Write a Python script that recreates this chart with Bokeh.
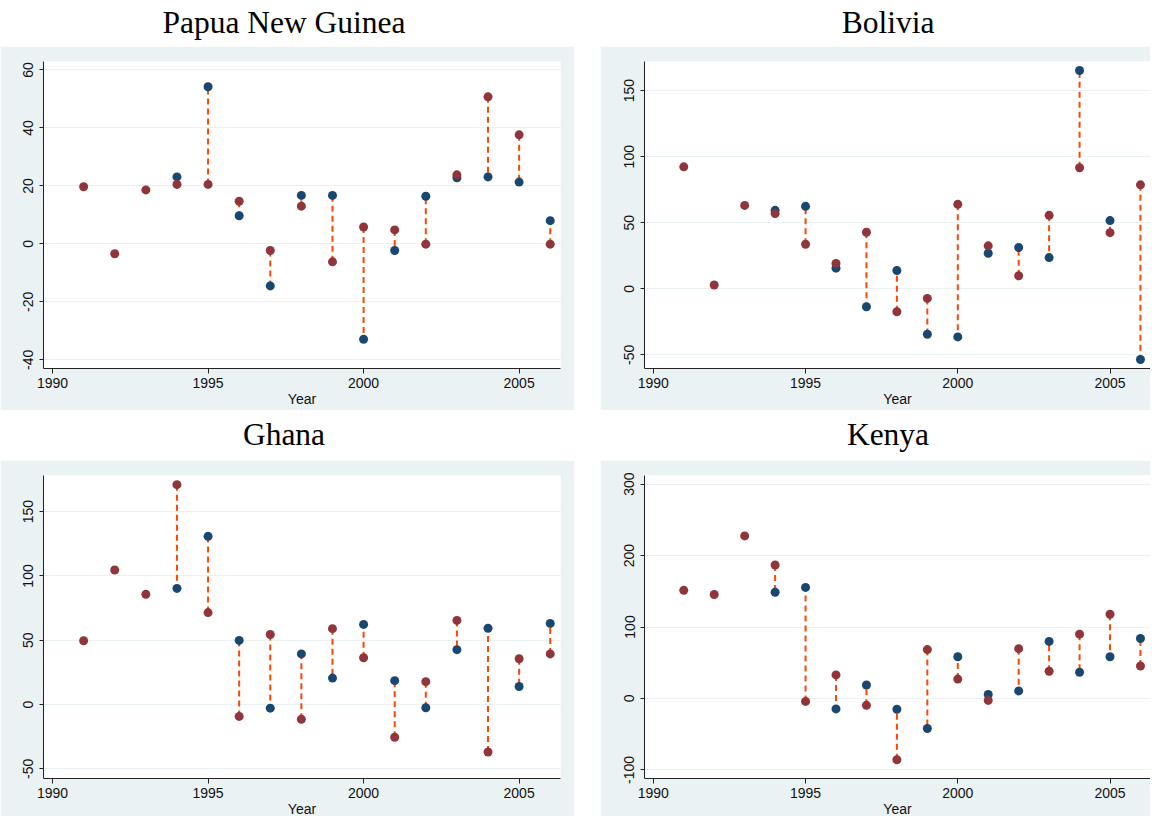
from bokeh.plotting import figure
from bokeh.layouts import column, row
from bokeh.models import Div, Spacer, FixedTicker, Range1d, ColumnDataSource, PrintfTickFormatter
from bokeh.embed import file_html
from bokeh.resources import INLINE

years = list(range(1991, 2007))
nan = float("nan")

# red (maroon) series and blue (navy) series, one value per year 1991-2006
png_red = [19.7, -3.4, 18.6, 20.5, 20.5, 14.7, -2.3, 13.0, -6.2, 5.8, 4.8, -0.1, 23.8, 50.7, 37.6, -0.1]
png_blue = [nan, nan, nan, 23.1, 54.2, 9.7, -14.5, 16.7, 16.7, -32.9, -2.3, 16.4, 22.8, 23.1, 21.3, 8.0]

bol_red = [92.3, 2.8, 63.1, 56.9, 33.7, 19.1, 42.8, -17.4, -7.3, 63.9, 32.5, 9.8, 55.6, 91.6, 42.5, 78.7]
bol_blue = [nan, nan, nan, 59.4, 62.4, 15.6, -13.6, 13.8, -34.5, -36.5, 26.9, 31.2, 23.6, 165.3, 51.6, -53.6]

gha_red = [49.6, 104.6, 85.7, 171.0, 71.5, -9.2, 54.5, -11.5, 59.0, 36.4, -25.4, 17.8, 65.4, -36.9, 35.6, 39.4]
gha_blue = [nan, nan, nan, 90.3, 130.8, 49.9, -2.8, 39.4, 20.6, 62.3, 18.6, -2.5, 42.7, 59.3, 14.0, 63.1]

ken_red = [151.3, 145.4, 227.5, 186.7, -4.1, 33.0, -9.6, -85.7, 68.4, 27.1, -2.7, 69.7, 38.1, 90.0, 117.9, 45.4]
ken_blue = [nan, nan, nan, 148.6, 155.4, -14.6, 18.8, -15.1, -42.1, 58.3, 5.5, 10.6, 79.8, 36.7, 58.3, 83.9]

x_ticks = [1990, 1995, 2000, 2005]
png_yticks = [-40, -20, 0, 20, 40, 60]
bol_yticks = [-50, 0, 50, 100, 150]
gha_yticks = [-50, 0, 50, 100, 150]
ken_yticks = [-100, 0, 100, 200, 300]

titles = ["Papua New Guinea", "Bolivia", "Ghana", "Kenya"]

RED = "#90353b"
BLUE = "#1a476f"
DASH = "#ff4500"
BG = "#eaf2f3"
FONT = "Liberation Sans"


def panel(red, blue, yr, yticks, w, h, bl, br, bt, bb, xr):
    p = figure(width=w, height=h, x_range=Range1d(*xr), y_range=Range1d(*yr),
               output_backend="svg", toolbar_location=None,
               min_border_left=bl, min_border_right=br,
               min_border_top=bt, min_border_bottom=bb)
    p.border_fill_color = BG
    p.background_fill_color = "white"
    p.outline_line_color = None

    p.xgrid.visible = False
    p.ygrid.ticker = FixedTicker(ticks=yticks)
    p.ygrid.grid_line_color = BG
    p.ygrid.grid_line_width = 1.2

    xa = p.xaxis[0]
    xa.ticker = FixedTicker(ticks=x_ticks)
    xa.axis_label = "Year"
    xa.axis_label_text_font = FONT
    xa.axis_label_text_font_size = "14px"
    xa.axis_label_text_font_style = "normal"
    xa.axis_label_text_color = "#111111"
    xa.axis_label_standoff = 0
    xa.major_label_text_font = FONT
    xa.major_label_text_font_size = "14px"
    xa.major_label_text_color = "#111111"
    xa.major_label_standoff = 4
    xa.major_tick_out = 5
    xa.major_tick_in = 0
    xa.minor_tick_out = 0
    xa.minor_tick_in = 0
    xa.axis_line_color = "#222222"
    xa.major_tick_line_color = "#222222"

    ya = p.yaxis[0]
    ya.ticker = FixedTicker(ticks=yticks)
    ya.formatter = PrintfTickFormatter(format="%d")
    ya.major_label_orientation = "vertical"
    ya.major_label_text_font = FONT
    ya.major_label_text_font_size = "14px"
    ya.major_label_text_color = "#111111"
    ya.major_label_standoff = 6
    ya.major_tick_out = 4
    ya.major_tick_in = 0
    ya.minor_tick_out = 0
    ya.minor_tick_in = 0
    ya.axis_line_color = "#222222"
    ya.major_tick_line_color = "#222222"

    pairs = [(y, r, b) for y, r, b in zip(years, red, blue) if b == b]
    seg = ColumnDataSource(dict(x=[q[0] for q in pairs],
                                r=[q[1] for q in pairs],
                                b=[q[2] for q in pairs]))
    p.segment(x0="x", y0="r", x1="x", y1="b", source=seg,
              line_color=DASH, line_width=2, line_dash="6 4")
    p.scatter(x=years, y=blue, size=9, color=BLUE, line_width=0)
    p.scatter(x=years, y=red, size=9, color=RED, line_width=0)
    return p


def title_div(text, w, h, shift):
    return Div(text=f'<span style="position:relative; left:{shift}px">{text}</span>',
               width=w, height=h,
               styles={"font-family": "Liberation Serif", "font-size": "31.5px",
                       "text-align": "center", "line-height": f"{h}px",
                       "color": "#000000", "white-space": "nowrap"})


LW, RW, GAP = 574, 550, 16
TH1, BH1, TH2, BH2 = 36, 364, 40, 360
XR = (1989.71, 2006.33)

p1 = panel(png_red, png_blue, (-43.0, 62.9), png_yticks, LW, BH1, 43, 14, 15, 42, XR)
p2 = panel(bol_red, bol_blue, (-60.4, 172.1), bol_yticks, RW, BH1, 44, 0, 15, 42, XR)
p3 = panel(gha_red, gha_blue, (-57.5, 178.1), gha_yticks, LW, BH2, 43, 14, 15, 42, XR)
p4 = panel(ken_red, ken_blue, (-112.0, 312.0), ken_yticks, RW, BH2, 44, 0, 15, 42, XR)

top = row(column(title_div(titles[0], LW, TH1, -8), p1),
          Spacer(width=GAP, height=10),
          column(title_div(titles[1], RW, TH1, 8), p2))
bottom = row(column(title_div(titles[2], LW, TH2, -8), p3),
             Spacer(width=GAP, height=10),
             column(title_div(titles[3], RW, TH2, 8), p4))
layout = column(top, bottom)

open("out.html", "w").write(file_html(layout, INLINE))
